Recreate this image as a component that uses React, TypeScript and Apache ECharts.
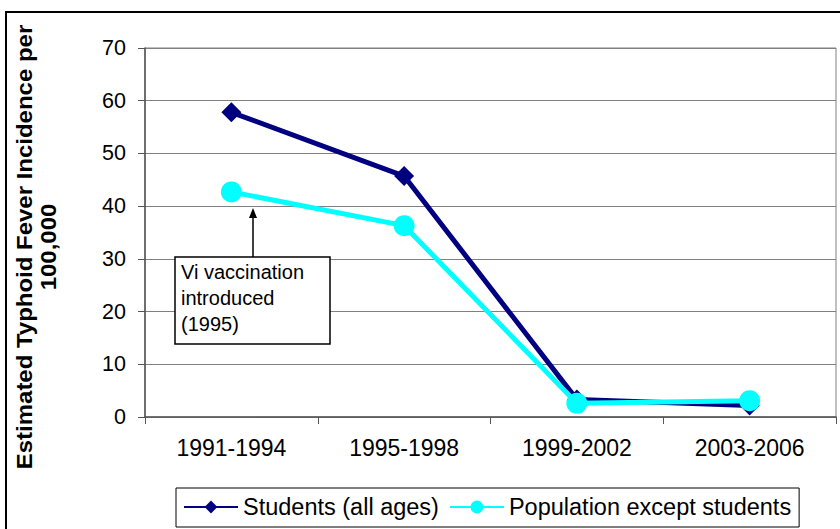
import React, { useEffect, useRef } from "react";
import * as echarts from "echarts";

const categories = ["1991-1994", "1995-1998", "1999-2002", "2003-2006"];
const students = [57.8, 45.7, 3.3, 2.2];
const population = [42.7, 36.3, 2.6, 3.1];
const seriesNames = ["Students (all ages)", "Population except students"];
const yTitle = "Estimated Typhoid Fever Incidence per\n100,000";
const noteText = "Vi vaccination\nintroduced\n(1995)";

const FONT = '"Liberation Sans", Arial, sans-serif';

export default function App() {
  const ref = useRef<HTMLDivElement>(null);
  useEffect(() => {
    if (!ref.current) return;
    const chart = echarts.init(ref.current, undefined, { renderer: "svg" });
    chart.setOption({
      animation: false,
      backgroundColor: "#ffffff",
      textStyle: { fontFamily: FONT },
      grid: {
        left: 145,
        top: 48,
        width: 691,
        height: 369,
        show: true,
        borderColor: "#808080",
        borderWidth: 1,
      },
      xAxis: {
        type: "category",
        data: categories,
        boundaryGap: true,
        axisLine: { lineStyle: { color: "#555", width: 1.5 } },
        axisTick: { show: true, length: 7, inside: false, lineStyle: { color: "#555" } },
        axisLabel: { color: "#000", fontSize: 23, margin: 19, fontFamily: FONT },
        splitLine: { show: false },
      },
      yAxis: {
        type: "value",
        min: 0,
        max: 70,
        interval: 10,
        axisLine: { show: true, lineStyle: { color: "#555", width: 1.5 } },
        axisTick: { show: true, length: 7, lineStyle: { color: "#555" } },
        axisLabel: { color: "#000", fontSize: 21.5, margin: 19, fontFamily: FONT },
        splitLine: { show: true, lineStyle: { color: "#808080", width: 1 } },
      },
      legend: {
        left: 176,
        top: 488,
        orient: "horizontal",
        padding: [7, 8, 8, 7],
        itemGap: 10,
        itemWidth: 54,
        itemHeight: 16,
        borderColor: "#000",
        borderWidth: 1,
        backgroundColor: "#fff",
        textStyle: { color: "#000", fontSize: 23.5, fontFamily: FONT },
        data: seriesNames,
      },
      series: [
        {
          name: seriesNames[0],
          type: "line",
          data: students,
          symbol: "diamond",
          symbolSize: 20,
          lineStyle: { color: "#000080", width: 5 },
          itemStyle: { color: "#000080" },
        },
        {
          name: seriesNames[1],
          type: "line",
          data: population,
          symbol: "circle",
          symbolSize: 21,
          lineStyle: { color: "#00FFFF", width: 5 },
          itemStyle: { color: "#00FFFF" },
        },
      ],
      graphic: [
        {
          type: "rect",
          shape: { x: 6, y: 12, width: 900, height: 600 },
          style: { fill: "none", stroke: "#000", lineWidth: 2 },
          z: -10,
          silent: true,
        },
        {
          type: "text",
          x: 36,
          y: 247,
          rotation: Math.PI / 2,
          scaleX: 1.09,
          style: {
            text: yTitle,
            font: `bold 22px ${FONT}`,
            fill: "#000",
            textAlign: "center",
            textVerticalAlign: "middle",
            lineHeight: 24,
          },
        },
        {
          type: "line",
          shape: { x1: 253, y1: 257, x2: 253, y2: 214 },
          style: { stroke: "#000", lineWidth: 1.5 },
          z: 10,
        },
        {
          type: "polygon",
          shape: { points: [[253, 208], [249, 218], [257, 218]] },
          style: { fill: "#000" },
          z: 10,
        },
        {
          type: "rect",
          shape: { x: 175, y: 257, width: 155, height: 87 },
          style: { fill: "#fff", stroke: "#000", lineWidth: 1.5 },
          z: 10,
        },
        {
          type: "text",
          x: 181,
          y: 259,
          style: {
            text: noteText,
            font: `20px ${FONT}`,
            fill: "#000",
            textAlign: "left",
            textVerticalAlign: "top",
            lineHeight: 26,
          },
          z: 11,
        },
      ],
    });
    return () => chart.dispose();
  }, []);
  return (
    <div
      ref={ref}
      style={{ position: "absolute", left: 0, top: 0, width: 840, height: 529 }}
    />
  );
}
